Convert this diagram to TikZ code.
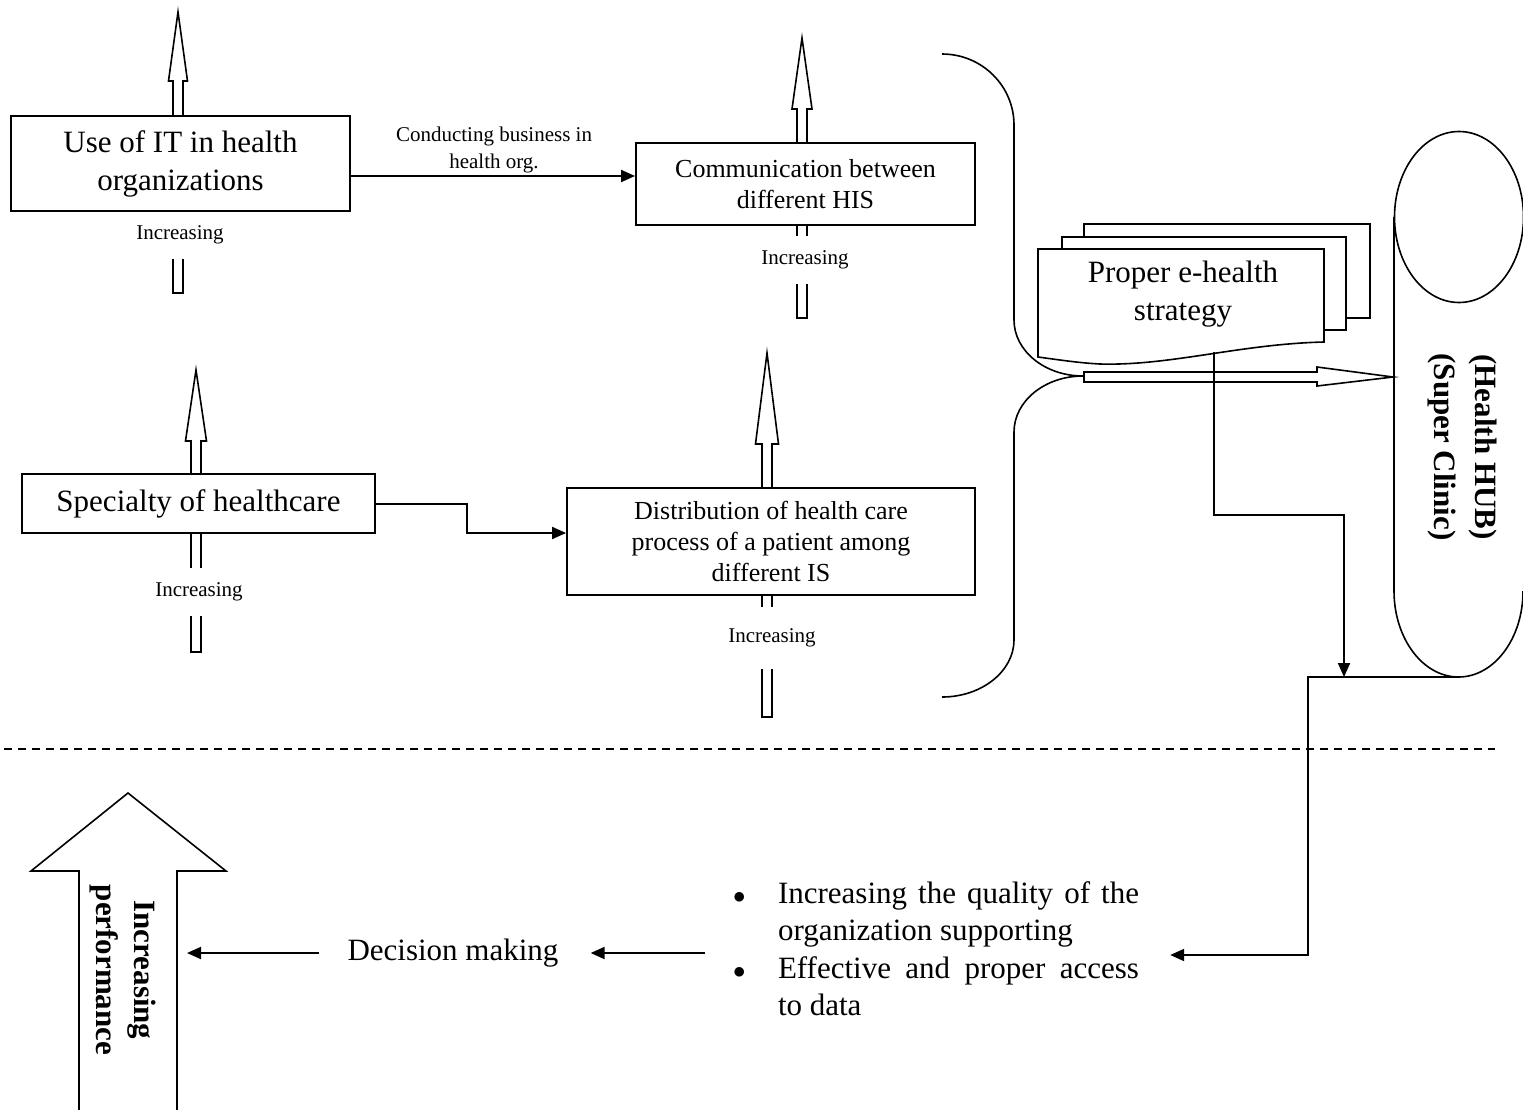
\documentclass[tikz,border=0pt]{standalone}
\usepackage{fontspec}
\setmainfont{Liberation Serif}
\usepackage{tikz}
\usetikzlibrary{arrows.meta, positioning}

\begin{document}
\begin{tikzpicture}[x=1pt, y=-1pt,
  box node/.style={draw, line width=1.9pt, fill=white, align=center, inner sep=0pt},
  big text/.style={font=\fontsize{31}{38}\selectfont},
  mid text/.style={font=\fontsize{26}{31}\selectfont},
  small text/.style={font=\fontsize{21}{27}\selectfont},
  inc node/.style={small text, fill=white, inner sep=2pt, minimum height=48pt},
  hollow/.style={draw, line width=1.6pt, fill=white},
  flow/.style={-{Triangle[length=14pt, width=12pt]}, line width=2pt}]

  \useasboundingbox (0,0) rectangle (1523,1109);

  % rising arrows behind the boxes
  \foreach \x/\yb/\yt/\hl/\hw in {178/293/12/69/9.5, 802/318/38/71/10, 196/652/370/71/10.5, 767/717/353/91/11.5}
    \draw[hollow] (\x-5,\yb) -- (\x-5,\yt+\hl) -- (\x-\hw,\yt+\hl) -- (\x,\yt)
      -- (\x+\hw,\yt+\hl) -- (\x+5,\yt+\hl) -- (\x+5,\yb) -- cycle;

  \node[inc node] (inc1) at (180,235) {Increasing};
  \node[inc node] (inc2) at (805,260) {Increasing};
  \node[inc node] (inc3) at (199,592) {Increasing};
  \node[inc node, minimum height=62pt, anchor=north] (inc4) at (772,607) {Increasing};

  \node[box node, big text, minimum width=339pt, minimum height=95pt] (use) at (180.5,163.5) {Use of IT in health\\organizations};
  \node[box node, mid text, minimum width=339pt, minimum height=82pt] (comm) at (805.5,184) {Communication between\\different HIS};
  \node[box node, big text, minimum width=353pt, minimum height=59pt] (spec) at (198.5,503.5) {Specialty of healthcare};
  \node[box node, mid text, minimum width=408pt, minimum height=107pt] (dist) at (771,541.5) {Distribution of health care\\process of a patient among\\different IS};

  \coordinate (c1) at ([yshift=-12.5pt]use.east);
  \draw[flow] (c1) -- (c1 -| comm.west);
  \node[small text, align=center] (cond) at (494,150) {Conducting business in\\health org.};

  \draw[flow] (spec.east) -- ++(91,0) |- ([yshift=8.5pt]dist.west);

  % brace
  \draw[line width=1.6pt] (942,54) .. controls (982,54) and (1014,86) .. (1014,125)
    -- (1014,320) .. controls (1014,351) and (1045,376) .. (1083,376)
    .. controls (1045,376) and (1014,401) .. (1014,432)
    -- (1014,640) .. controls (1014,671) and (982,697) .. (942,697);

  % hollow arrow into the hub
  \draw[hollow] (1084,372) -- (1317,372) -- (1317,367) -- (1393,377)
    -- (1317,386) -- (1317,382) -- (1084,382) -- cycle;

  % strategy documents
  \draw[hollow] (1084,224) rectangle (1370,318);
  \draw[hollow] (1062,237) rectangle (1346,330);
  \draw[hollow] (1038,249) -- (1324,249) -- (1324,342)
    .. controls (1240,344) and (1170,366) .. (1100,364)
    .. controls (1080,363) and (1060,360) .. (1038,357) -- cycle;
  \node[big text, align=center] (strat) at (1183,294) {Proper e-health\\strategy};
  \coordinate (sb) at (1214,352);

  % hub
  \draw[line width=1.6pt] (1459,217) ellipse [x radius=64.5, y radius=85.5];
  \draw[line width=1.6pt] (1394,217) -- (1394,591);
  \begin{scope}
    \clip (1380,591) rectangle (1540,700);
    \draw[line width=1.6pt] (1458.5,591) ellipse [x radius=64.5, y radius=86];
  \end{scope}
  \node[font=\fontsize{31}{41}\selectfont\bfseries, align=center, rotate=-90] (hub) at (1462,447) {(Health HUB)\\(Super Clinic)};
  \coordinate (hb) at (1458,677);
  \coordinate (jn) at (1344,677);
  \draw[flow] (sb) -- ++(0,163) -| (jn);

  \draw[line width=2pt, dash pattern=on 8pt off 6pt] (4,749) -- (1495,749);

  % bottom row
  \node[font=\fontsize{31}{37.5}\selectfont, inner sep=0pt] (bul) at (936,952)
    {\begin{tabular}{@{}p{45pt}@{}p{361pt}@{}}
       $\bullet$ & Increasing the quality of the organization supporting\\
       $\bullet$ & Effective and proper access to data
     \end{tabular}};
  \node[big text, inner sep=0pt] (dec) at (453,953) {Decision making};
  \draw[flow, shorten <=28pt, shorten >=32pt] (bul.west |- dec.east) -- (dec.east);
  \draw[flow, shorten >=31pt] (hb) -- ++(-150,0) |- ([yshift=-3pt]bul.east);

  \draw[hollow] (79,1112) -- (79,871) -- (31,871) -- (128,793) -- (226,871) -- (177,871) -- (177,1112);
  \node[font=\fontsize{31}{38}\selectfont\bfseries, align=center, rotate=-90] (perf) at (123,970) {Increasing\\performance};
  \coordinate (pa) at (177,953);
  \draw[flow, shorten <=28pt, shorten >=10pt] (dec.west) -- (pa);
\end{tikzpicture}
\end{document}
